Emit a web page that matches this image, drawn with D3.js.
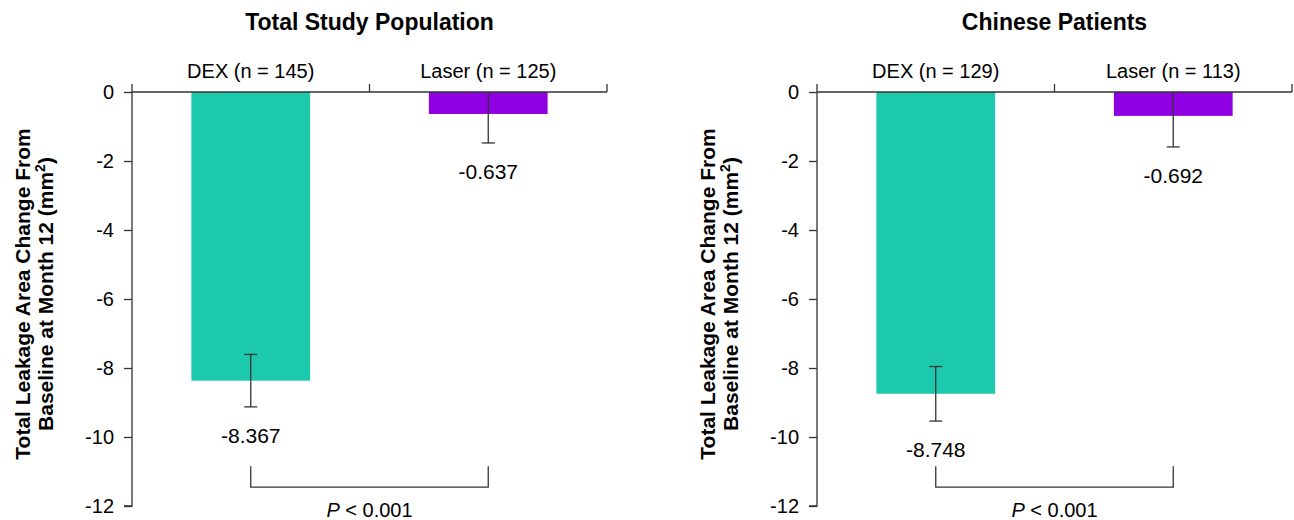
<!DOCTYPE html>
<html>
<head>
<meta charset="utf-8">
<script src="https://cdn.jsdelivr.net/npm/d3@7"></script>
<style>
body { margin: 0; background: #fff; }
text { font-family: "Liberation Sans", Arial, sans-serif; fill: #000; }
</style>
</head>
<body>
<svg width="1294" height="520"></svg>
<script>
// data
var groups = ["DEX", "Laser"];
var panelTitles = ["Total Study Population", "Chinese Patients"];
var totalN = [145, 125];
var chineseN = [129, 113];
var totalMean = [-8.367, -0.637];
var chineseMean = [-8.748, -0.692];
var totalErr = [0.76, 0.84];
var chineseErr = [0.79, 0.90];
var yTicks = [0, -2, -4, -6, -8, -10, -12];
var pText = "< 0.001";
var colors = ["#1cc9ac", "#8f00e3"];

var svg = d3.select("svg");
var axisColor = "#333";

var y = d3.scaleLinear().domain([0, -12]).range([92, 506]);

function drawPanel(left, title, ns, means, errs) {
    var x = d3.scaleBand().domain(groups).range([left, left + 475]).padding(0);
    var bw = x.bandwidth();
    var g = svg.append("g");

    // panel title
    g.append("text")
    .attr("x", left + 237.5)
    .attr("y", 30)
    .attr("text-anchor", "middle")
    .attr("font-size", "23px")
    .attr("font-weight", "bold")
    .text(title);

    // y axis
    var yAxis = g.append("g")
    .attr("transform", "translate(" + left + ",0)")
    .call(d3.axisLeft(y).tickValues(yTicks).tickSize(8).tickPadding(10));
    yAxis.select(".domain").attr("d", "M0," + y(0) + "V" + y(-12) + "H-8").attr("stroke", axisColor).attr("stroke-width", 1.3);
    yAxis.selectAll(".tick line").attr("stroke", axisColor).attr("stroke-width", 1.3);
    yAxis.selectAll(".tick text")
    .attr("font-size", "20px")
    .attr("font-family", "Liberation Sans, Arial, sans-serif")
    .attr("fill", "#000")
    .text(function (d) { return d < 0 ? "-" + Math.abs(d) : d; });

    // y axis title
    var yt = g.append("text")
    .attr("transform", "translate(" + (left - 102) + ",294) rotate(-90)")
    .attr("text-anchor", "middle")
    .attr("font-size", "21px")
    .attr("font-weight", "bold");
    yt.append("tspan").attr("x", 0).attr("dy", 0).text("Total Leakage Area Change From");
    var line2 = yt.append("tspan").attr("x", 0).attr("dy", 23);
    line2.append("tspan").text("Baseline at Month 12 (mm");
    line2.append("tspan").attr("font-size", "14px").attr("dy", -8).text("2");
    line2.append("tspan").attr("dy", 8).text(")");

    // bars
    g.selectAll(".bar")
    .data(groups)
    .enter()
    .append("rect")
    .attr("x", function (d) { return x(d) + bw / 4; })
    .attr("y", y(0))
    .attr("width", bw / 2)
    .attr("height", function (d, i) { return y(means[i]) - y(0); })
    .attr("fill", function (d, i) { return colors[i]; });

    // top category axis
    var cx = groups.map(function (d) { return x(d); }).concat([left + 475]);
    g.append("line")
    .attr("x1", left).attr("x2", left + 475)
    .attr("y1", y(0)).attr("y2", y(0))
    .attr("stroke", axisColor).attr("stroke-width", 1.3);
    g.selectAll(".ctick")
    .data(cx)
    .enter()
    .append("line")
    .attr("x1", function (d) { return d; }).attr("x2", function (d) { return d; })
    .attr("y1", y(0) - 8).attr("y2", y(0))
    .attr("stroke", axisColor).attr("stroke-width", 1.3);
    g.selectAll(".clabel")
    .data(groups)
    .enter()
    .append("text")
    .attr("x", function (d) { return x(d) + bw / 2; })
    .attr("y", 78)
    .attr("text-anchor", "middle")
    .attr("font-size", "20px")
    .text(function (d, i) { return d + " (n = " + ns[i] + ")"; });

    // error bars
    groups.forEach(function (d, i) {
        var c = x(d) + bw / 2;
        var top = Math.min(means[i] + errs[i], 0);
        var bot = means[i] - errs[i];
        g.append("line")
        .attr("x1", c).attr("x2", c)
        .attr("y1", y(top)).attr("y2", y(bot))
        .attr("stroke", axisColor).attr("stroke-width", 1.3);
        g.append("line")
        .attr("x1", c - 6.5).attr("x2", c + 6.5)
        .attr("y1", y(bot)).attr("y2", y(bot))
        .attr("stroke", axisColor).attr("stroke-width", 1.3);
        if (means[i] + errs[i] < 0) {
            g.append("line")
            .attr("x1", c - 6.5).attr("x2", c + 6.5)
            .attr("y1", y(top)).attr("y2", y(top))
            .attr("stroke", axisColor).attr("stroke-width", 1.3);
        }
        g.append("text")
        .attr("x", c)
        .attr("y", y(bot) + 36)
        .attr("text-anchor", "middle")
        .attr("font-size", "21px")
        .text(d3.format(".3f")(means[i]).replace("−", "-"));
    });

    // significance bracket
    var b0 = x(groups[0]) + bw / 2, b1 = x(groups[1]) + bw / 2;
    g.append("path")
    .attr("d", "M" + b0 + "," + y(-10.85) + "V" + y(-11.45) + "H" + b1 + "V" + y(-10.85))
    .attr("fill", "none")
    .attr("stroke", axisColor)
    .attr("stroke-width", 1.3);
    var pt = g.append("text")
    .attr("x", (b0 + b1) / 2)
    .attr("y", 517)
    .attr("text-anchor", "middle")
    .attr("font-size", "20px");
    pt.append("tspan").attr("font-style", "italic").text("P");
    pt.append("tspan").text(" " + pText);
}

drawPanel(132, panelTitles[0], totalN, totalMean, totalErr);
drawPanel(817, panelTitles[1], chineseN, chineseMean, chineseErr);
</script>
</body>
</html>
